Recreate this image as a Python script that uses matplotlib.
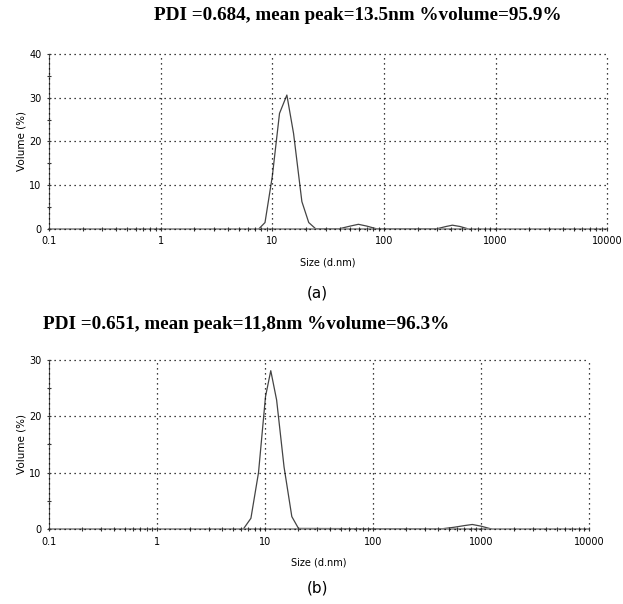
import numpy as np
import matplotlib.pyplot as plt
from matplotlib.ticker import FixedLocator, NullFormatter

# datos (tamaño en d.nm, volumen en %)
size_a = [7.6, 8.6, 10.0, 11.6, 13.5, 15.5, 18.4, 21.2, 24.4,
          40, 50, 59, 70, 85, 300, 360, 410, 480, 560]
vol_a = [0.0, 1.4, 12.0, 26.4, 30.6, 21.8, 6.2, 1.4, 0.0,
         0.0, 0.6, 1.0, 0.6, 0.0, 0.0, 0.5, 0.8, 0.5, 0.0]

size_b = [6.3, 7.4, 8.7, 10.1, 11.3, 12.8, 15.0, 17.7, 20.4,
          420, 560, 700, 830, 1000, 1250]
vol_b = [0.0, 1.9, 10.0, 23.5, 28.1, 22.9, 11.0, 2.2, 0.1,
         0.0, 0.3, 0.6, 0.8, 0.5, 0.0]

titulos = ['PDI =0.684, mean peak=13.5nm %volume=95.9%',
           'PDI =0.651, mean peak=11,8nm %volume=96.3%']
etiquetas = ['(a)', '(b)']
ymax = [40, 30]

xticks = [0.1, 1, 10, 100, 1000, 10000]
xlabels = ['0.1', '1', '10', '100', '1000', '10000']

fig = plt.figure(figsize=(6.23, 6.04), dpi=100)
ax1 = fig.add_axes([0.0787, 0.6214, 0.896, 0.2892])
ax2 = fig.add_axes([0.0787, 0.1242, 0.8668, 0.2798])

datos = [(size_a, vol_a), (size_b, vol_b)]

for ax, (ss, vv), tit, ym in zip([ax1, ax2], datos, titulos, ymax):
    ax.plot(ss, vv, color='#444444', lw=0.9)
    ax.set_xscale('log')
    ax.set_xlim(0.1, 10000)
    ax.set_ylim(0, ym)
    ax.xaxis.set_major_locator(FixedLocator(xticks))
    ax.set_xticklabels(xlabels)
    minors = [m * 10.0**e for e in range(-1, 4) for m in range(2, 10)]
    ax.xaxis.set_minor_locator(FixedLocator(minors))
    ax.xaxis.set_minor_formatter(NullFormatter())
    ax.set_yticks(np.arange(0, ym + 1, 10))
    ax.set_yticks(np.arange(5, ym, 10), minor=True)
    ax.grid(True, which='major', linestyle=(0, (1, 3)), color='black', lw=0.9)
    # que no se recorten las lineas de grilla del borde
    for gl in ax.get_xgridlines() + ax.get_ygridlines():
        gl.set_clip_on(False)
    for s in ['top', 'right']:
        ax.spines[s].set_visible(False)
    ax.spines['left'].set_color('#555555')
    ax.spines['bottom'].set_color('#888888')
    ax.spines['bottom'].set_linewidth(1.2)
    ax.tick_params(axis='both', which='both', direction='inout', length=3,
                   width=0.8, color='#333333', labelsize=7, pad=4)
    ax.set_xlabel('Size (d.nm)', fontsize=7, labelpad=8)
    ax.set_ylabel('Volume (%)', fontsize=7.5, labelpad=2)
    ax.set_axisbelow(False)

fig.text(0.575, 0.975, titulos[0], ha='center', va='center',
         family='Liberation Serif', weight='bold', fontsize=13.8)
fig.text(0.395, 0.462, titulos[1], ha='center', va='center',
         family='Liberation Serif', weight='bold', fontsize=13.8)
fig.text(0.51, 0.515, etiquetas[0], ha='center', va='center', fontsize=11)
fig.text(0.51, 0.026, etiquetas[1], ha='center', va='center', fontsize=11)

plt.savefig('out.png', dpi=100)
